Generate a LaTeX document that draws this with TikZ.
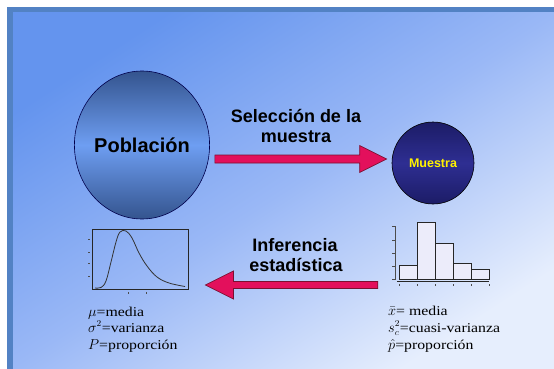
\documentclass[tikz,border=0pt]{standalone}
\usepackage{fontspec}
\setmainfont{Liberation Serif}
\setsansfont{Liberation Sans}
\newfontfamily\labfont[FakeStretch=1.17]{Liberation Serif}
\usetikzlibrary{shapes.geometric,calc}
\definecolor{framec}{HTML}{5282C4}
\definecolor{bgl}{HTML}{6494EE}
\definecolor{bgm}{HTML}{9AB8F6}
\definecolor{bgr}{HTML}{E6EEFD}
\definecolor{pobd}{HTML}{34548E}
\definecolor{pobl}{HTML}{6E9EF2}
\definecolor{mued}{HTML}{1C1C66}
\definecolor{muel}{HTML}{2E2E92}
\definecolor{arrowc}{HTML}{E3105C}
\definecolor{arrowd}{HTML}{7A1030}
\definecolor{barc}{HTML}{ECECFA}
\tikzset{
  bigarrow/.style={fill=arrowc, draw=arrowd, line width=0.7pt, line join=miter},
  headtxt/.style={font=\sffamily\bfseries\fontsize{18}{20}\selectfont, anchor=base, inner sep=0pt},
  labtxt/.style={font=\labfont\fontsize{13.5}{17}\selectfont, anchor=base west, inner sep=0pt},
  axisline/.style={draw=black!85, line width=0.7pt},
  tickmark/.style={draw=black!70, line width=0.5pt},
}
\begin{document}
\begin{tikzpicture}[x=1pt,y=-1pt]
\useasboundingbox (0,0) rectangle (554,369);
\fill[white] (0,0) rectangle (554,369);
\fill[framec] (7,7) rectangle (554,369);
\shade[left color=bgl, right color=bgr, middle color=bgm, shading angle=33] (13,13) rectangle (554,369);

% main circles
\node (pob) [ellipse, minimum width=132pt, minimum height=148pt, inner sep=0pt,
  draw=black!70!blue, line width=0.6pt, top color=pobd, bottom color=pobd, middle color=pobl,
  font=\sffamily\bfseries\fontsize{20}{24}\selectfont] at (142,145) {Población\hspace{12pt}};
\node (mue) [circle, minimum size=82pt, inner sep=0pt, draw=black, line width=0.6pt,
  top color=mued, bottom color=mued, middle color=muel, text=yellow,
  font=\sffamily\bfseries\fontsize{12.5}{14}\selectfont] at (433,163) {Muestra};

% top arrow
\coordinate (a1s) at ($(pob.east)+(5,14)$);
\coordinate (a1e) at ($(mue.west)+(-5,-4)$);
\filldraw[bigarrow] ($(a1s)+(0,-4)$) -- ($(a1e)+(-27,-4)$) -- ($(a1e)+(-27,-13.5)$) -- (a1e)
  -- ($(a1e)+(-27,13.5)$) -- ($(a1e)+(-27,4)$) -- ($(a1s)+(0,4)$) -- cycle;
\node (sel1) [headtxt] at (296,122) {Selección de la};
\node (sel2) [headtxt] at (296,142) {muestra};

% left plot
\node (plotL) [draw=black!85, line width=0.8pt, minimum width=96pt, minimum height=60pt, inner sep=0pt] at (140,259) {};
\draw[black!80, line width=0.8pt] plot[smooth, tension=0.6] coordinates {(95,288) (101,287.5) (106,281) (111,262) (116,242) (120,232) (126,231) (132,238) (139,253) (147,266) (157,277) (169,283) (185,286.5)};
\foreach \yy in {239,252,263,276} \draw[tickmark] (88,\yy) -- (90,\yy);
\foreach \xx in {128,146} \draw[tickmark] (\xx,292) -- (\xx,294);

% histogram
\node (hist) [minimum width=90pt, minimum height=57pt, inner sep=0pt] at (444,251) {};
\foreach \x/\t in {399/265,417/222,435/243,453/263,471/269}
  \draw[fill=barc, draw=black!85, line width=0.7pt] (\x,\t) rectangle (\x+18,279);
\draw[axisline] (397,281.5) -- (489,281.5);
\draw[tickmark] (395.5,226) -- (395.5,279);
\foreach \yy in {226,240,253,266,279} \draw[tickmark] (392,\yy) -- (395.5,\yy);
\foreach \xx in {399,417,435,453,471,489} \draw[tickmark] (\xx,284) -- (\xx,286);

% bottom arrow
\coordinate (a2s) at ($(hist.west)+(-21,34)$);
\coordinate (a2e) at ($(plotL.east)+(17,26)$);
\filldraw[bigarrow] ($(a2s)+(0,-3.5)$) -- ($(a2e)+(28,-3.5)$) -- ($(a2e)+(28,-14)$) -- (a2e)
  -- ($(a2e)+(28,14)$) -- ($(a2e)+(28,3.5)$) -- ($(a2s)+(0,3.5)$) -- cycle;
\node (inf1) [headtxt] at (295,251) {Inferencia};
\node (inf2) [headtxt] at (296,271.5) {estadística};

% labels
\node (lm) [labtxt] at (88,316) {$\mu$=media};
\node (ls) [labtxt] at (88,332) {$\sigma^2$=varianza};
\node (lp) [labtxt] at (88,349) {$P$=proporción};
\node (rm) [labtxt] at (388,315) {$\bar{x}$= media};
\node (rs) [labtxt] at (388,332) {$s_c^2$=cuasi-varianza};
\node (rp) [labtxt] at (388,349) {$\hat{p}$=proporción};
\end{tikzpicture}
\end{document}
